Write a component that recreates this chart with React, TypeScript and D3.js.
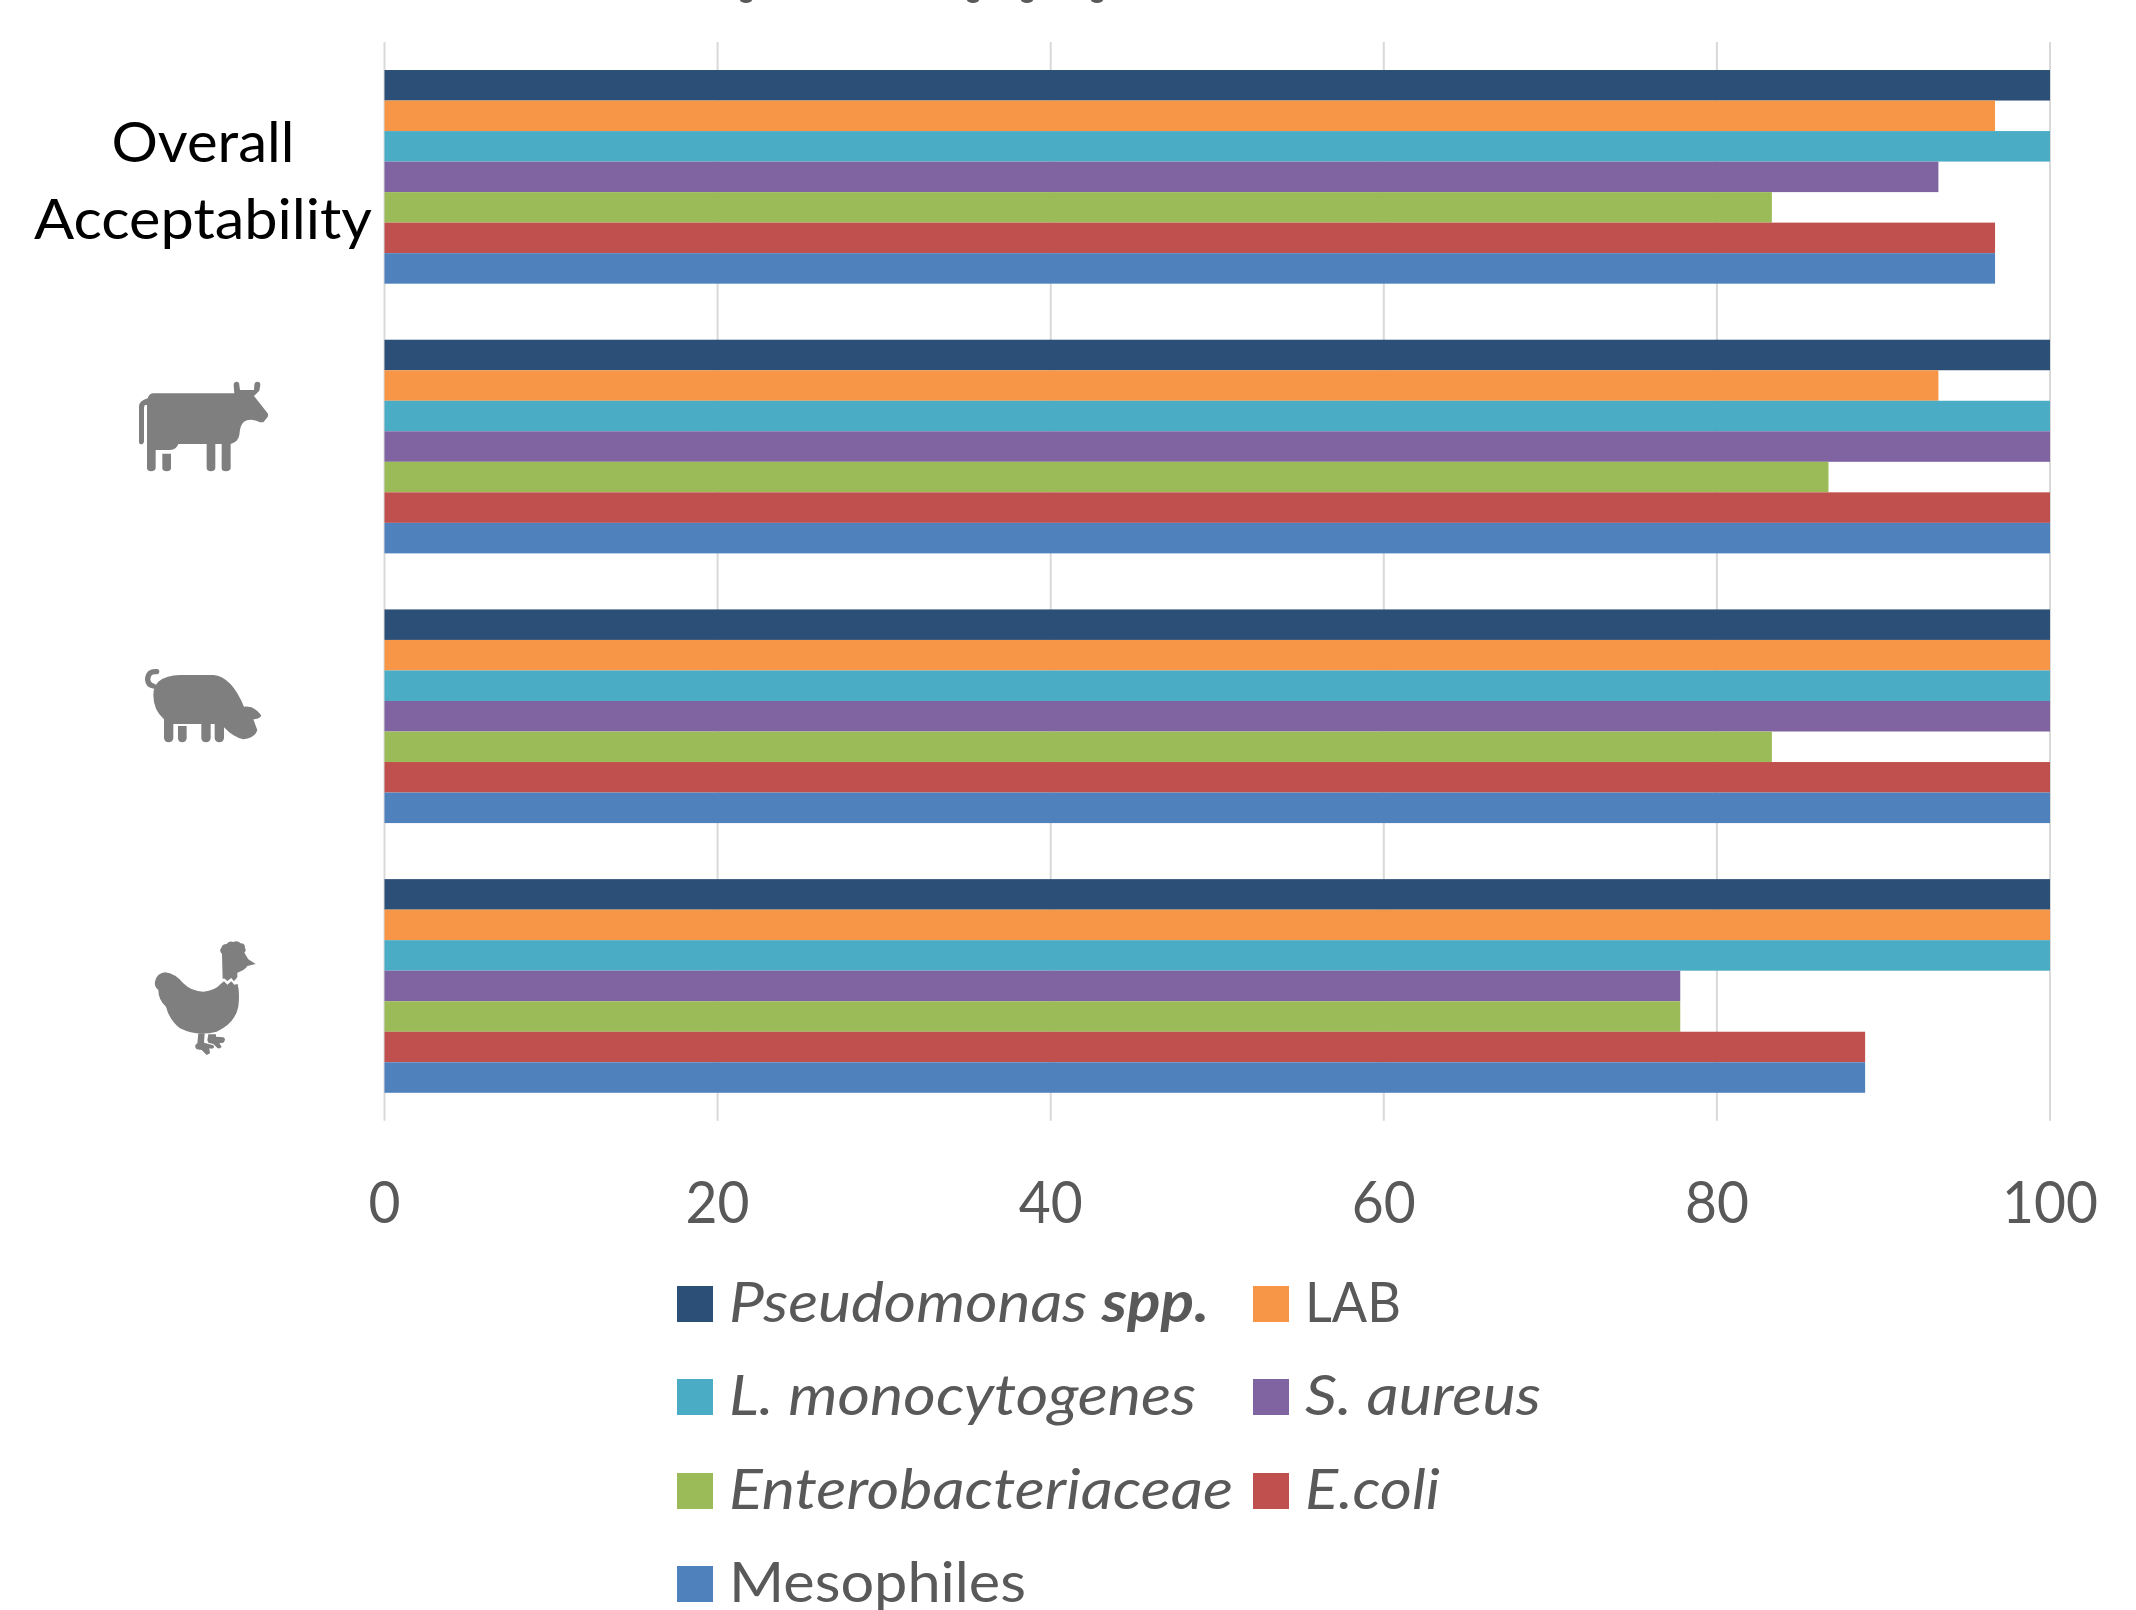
import React from "react";
import * as d3 from "d3";

// Percentage of acceptable samples per product group and microbial group
const groups = ["Overall Acceptability", "Beef", "Pork", "Poultry"];
const seriesNames = ["Pseudomonas spp.", "LAB", "L. monocytogenes", "S. aureus", "Enterobacteriaceae", "E.coli", "Mesophiles"];
const seriesColors = ["#2c4f77", "#f79646", "#4bacc6", "#8064a2", "#9bbb59", "#c0504d", "#4f81bd"];

const pseudomonas = [100, 100, 100, 100];
const lab = [96.7, 93.3, 100, 100];
const monocytogenes = [100, 100, 100, 100];
const aureus = [93.3, 100, 100, 77.8];
const enterobacteriaceae = [83.3, 86.7, 83.3, 77.8];
const ecoli = [96.7, 100, 100, 88.9];
const mesophiles = [96.7, 100, 100, 88.9];
const seriesValues = [pseudomonas, lab, monocytogenes, aureus, enterobacteriaceae, ecoli, mesophiles];

const xTicks = [0, 20, 40, 60, 80, 100];

const WIDTH = 2136;
const HEIGHT = 1610;
const TEXT = "#595959";
const GRID = "#d9d9d9";
const ICON = "#7f7f7f";
const FONT = "Lato, 'Open Sans', sans-serif";

const x = d3.scaleLinear().domain([0, 100]).range([384.5, 2050]);
const yGroup = d3.scaleBand().domain(groups).range([42, 1120.8]).paddingInner(0.2078).paddingOuter(0.1039);
const yBar = d3.scaleBand().domain(seriesNames).range([0, yGroup.bandwidth()]);

// Legend layout: two columns, four rows
const legendCols = [677, 1253];
const legendRows = [1322, 1415, 1509, 1602];
const legendItems = [
  { col: 0, row: 0, i: 0, italic: true, width: 480 },
  { col: 1, row: 0, i: 1, italic: false, width: 96 },
  { col: 0, row: 1, i: 2, italic: true, width: 467 },
  { col: 1, row: 1, i: 3, italic: true, width: 236 },
  { col: 0, row: 2, i: 4, italic: true, width: 504 },
  { col: 1, row: 2, i: 5, italic: true, width: 135 },
  { col: 0, row: 3, i: 6, italic: false, width: 297 },
];

const Cow = () => (
  <g transform="translate(100,360) scale(0.3333)" fill={ICON}>
    <path d="M117 245 L117 140 Q117 122 143 115 Q148 100 160 100 L403 100 L401 75 Q402 65 410 65 Q418 65 418 75 L420 90 L462 90 L463 75 Q464 65 472 65 Q481 65 481 75 L478 92 L462 108 L503 160 Q507 168 500 175 L490 187 L480 187 Q450 172 432 185 Q420 195 418 225 Q415 245 392 252 L392 325 Q390 334 378 334 Q365 334 365 325 L365 252 L346 252 L346 325 Q344 334 333 334 Q321 334 320 325 L320 252 L235 252 Q230 268 210 270 L167 270 L167 325 Q165 334 153 334 Q142 334 141 325 L141 135 L135 135 Q132 138 132 145 L132 245 Q130 253 124 253 Q117 253 117 245 Z" />
    <path d="M187 281 L213 281 L213 325 Q212 334 200 334 Q188 334 187 325 Z" />
  </g>
);

const Pig = () => (
  <g transform="translate(120,650) scale(0.3333)" fill={ICON}>
    <path d="M110 65 Q85 62 83 88 Q84 105 100 108" fill="none" stroke={ICON} strokeWidth={16} strokeLinecap="round" />
    <path d="M115 95 Q140 75 180 75 L280 75 Q335 80 372 170 Q400 165 423 195 Q425 205 400 208 L412 240 Q405 265 370 268 Q340 262 312 232 L312 265 Q310 277 298 277 Q286 277 284 265 L284 222 L272 222 L272 265 Q270 277 258 277 Q246 277 244 265 L244 222 L160 222 L160 265 Q158 277 146 277 Q134 277 132 265 L132 208 Q100 180 100 135 Q100 110 115 95 Z" />
    <path d="M174 228 L200 228 L200 265 Q198 277 187 277 Q175 277 174 265 Z" />
  </g>
);

const Hen = () => (
  <g transform="translate(130,920) scale(0.3333)" fill={ICON}>
    {/* Head with a scalloped comb and beak */}
    <path d="M276 102 Q266 92 274 84 Q276 72 290 72 Q298 62 310 66 Q322 60 332 70 Q346 70 345 84 Q350 92 343 98 L355 118 L377 132 L352 138 Q345 150 322 158 L322 172 L312 184 L304 174 L292 183 L282 175 L278 178 Z" />
    <path d="M75 185 Q80 160 105 157 Q135 160 160 190 Q185 215 220 215 Q255 212 272 192 L282 184 L292 194 L304 184 L313 194 L323 192 Q330 220 325 260 Q315 310 260 335 Q200 350 150 325 Q118 300 108 260 Q85 240 85 210 Q72 200 75 185 Z" />
    <path d="M205 340 L224 340 L222 368 L250 376 Q256 384 246 386 L238 385 L240 400 L230 405 L215 390 L200 388 Q190 378 202 370 Z" />
    <path d="M235 343 L258 343 L258 350 L280 352 Q290 358 280 368 L268 370 L275 380 Q270 388 262 384 L250 372 L235 368 L232 360 Z" />
  </g>
);

export default function App() {
  return (
    <svg
      width={WIDTH}
      height={HEIGHT}
      viewBox={`0 0 ${WIDTH} ${HEIGHT}`}
      style={{ position: "absolute", left: 0, top: 0, display: "block", background: "#fff" }}
      fontFamily={FONT}
    >
      {/* Tips of a title running off the top edge */}
      {[746, 973, 1027, 1097].map((cx) => (
        <ellipse key={cx} cx={cx} cy={0} rx={6} ry={3} fill={TEXT} />
      ))}

      {/* Vertical gridlines */}
      {x.ticks(5).map((t) => (
        <line key={t} x1={x(t)} x2={x(t)} y1={42} y2={1120.8} stroke={GRID} strokeWidth={2} />
      ))}

      {/* Bars */}
      {groups.map((g, gi) => (
        <g key={g} transform={`translate(0,${yGroup(g)})`}>
          {seriesNames.map((s, si) => (
            <rect
              key={s}
              x={x(0)}
              y={yBar(s)}
              width={x(seriesValues[si][gi]) - x(0)}
              height={yBar.bandwidth()}
              fill={seriesColors[si]}
            />
          ))}
        </g>
      ))}

      {/* Value axis labels */}
      {xTicks.map((t) => (
        <text
          key={t}
          x={x(t)}
          y={1223}
          textAnchor="middle"
          fontSize={59}
          fill={TEXT}
          textLength={String(t).length * 32}
          lengthAdjust="spacingAndGlyphs"
        >
          {t}
        </text>
      ))}

      {/* Category labels */}
      <text x={203} y={162} textAnchor="middle" fontSize={57} fill="#000" textLength={183} lengthAdjust="spacingAndGlyphs">
        Overall
      </text>
      <text x={203} y={239} textAnchor="middle" fontSize={57} fill="#000" textLength={338} lengthAdjust="spacingAndGlyphs">
        Acceptability
      </text>
      <Cow />
      <Pig />
      <Hen />

      {/* Legend */}
      {legendItems.map((item) => {
        const name = seriesNames[item.i];
        const baseline = legendRows[item.row];
        const left = legendCols[item.col];
        const spp = name.endsWith(" spp.");
        return (
          <g key={name}>
            <rect x={left} y={baseline - 36} width={36} height={36} fill={seriesColors[item.i]} />
            <text
              x={left + 52}
              y={baseline}
              fontSize={57}
              fill={TEXT}
              fontStyle={item.italic ? "italic" : "normal"}
              textLength={item.width}
              lengthAdjust="spacingAndGlyphs"
            >
              {spp ? (
                <>
                  {name.replace(" spp.", " ")}
                  <tspan fontWeight={700}>spp.</tspan>
                </>
              ) : (
                name
              )}
            </text>
          </g>
        );
      })}
    </svg>
  );
}
